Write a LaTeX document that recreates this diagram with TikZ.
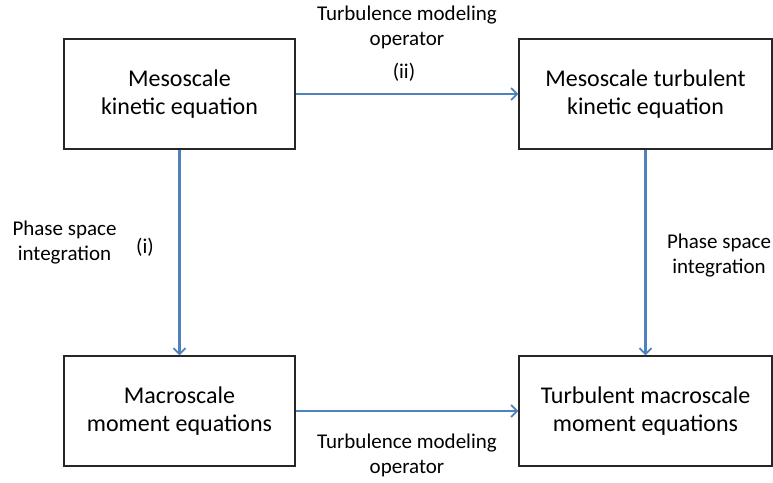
\documentclass[tikz,border=0pt]{standalone}
\usepackage{fontspec}
\setmainfont{Carlito}
\usetikzlibrary{arrows.meta}
\usetikzlibrary{positioning}
\definecolor{flow-blue}{RGB}{79, 129, 189}

\begin{document}
\begin{tikzpicture}[x=1pt, y=-1pt,
    box/.style={draw=black!85, line width=1.2pt, minimum height=110pt, align=center, inner sep=0pt, font=\fontsize{24}{28}\selectfont},
    lbl/.style={align=center, inner sep=0pt, font=\fontsize{21}{25}\selectfont},
    flow/.style={draw=flow-blue, line width=2.2pt, -{Straight Barb[length=6pt, width=12pt, line width=1.8pt]}}]
\useasboundingbox (0,0) rectangle (773,482);
% the four boxes
\node[box, minimum width=231pt] (meso) at (179.5,94) {Mesoscale\\kinetic equation};
\node[box, minimum width=253pt] (mesoturb) at (645.5,94) {Mesoscale turbulent\\kinetic equation};
\node[box, minimum width=231pt] (macro) at (179.5,411) {Macroscale\\moment equations};
\node[box, minimum width=253pt] (macroturb) at (645.5,411) {Turbulent macroscale\\moment equations};
% arrows
\draw[flow] (meso.east) -- (mesoturb.west);
\draw[flow] (meso.south) -- (macro.north);
\draw[flow] (mesoturb.south) -- (macroturb.north);
\draw[flow] (macro.east) -- (macroturb.west);
% labels
\node[lbl] (topop) at (407,27) {Turbulence modeling\\operator};
\node[lbl] (topnum) at (404,72) {(ii)};
\node[lbl] (leftint) at (64.5,243) {Phase space\\integration};
\node[lbl] (leftnum) at (145,247) {(i)};
\node[lbl] (rightint) at (719,256) {Phase space\\integration};
\node[lbl] (botop) at (407,455) {Turbulence modeling\\operator};
\end{tikzpicture}
\end{document}
